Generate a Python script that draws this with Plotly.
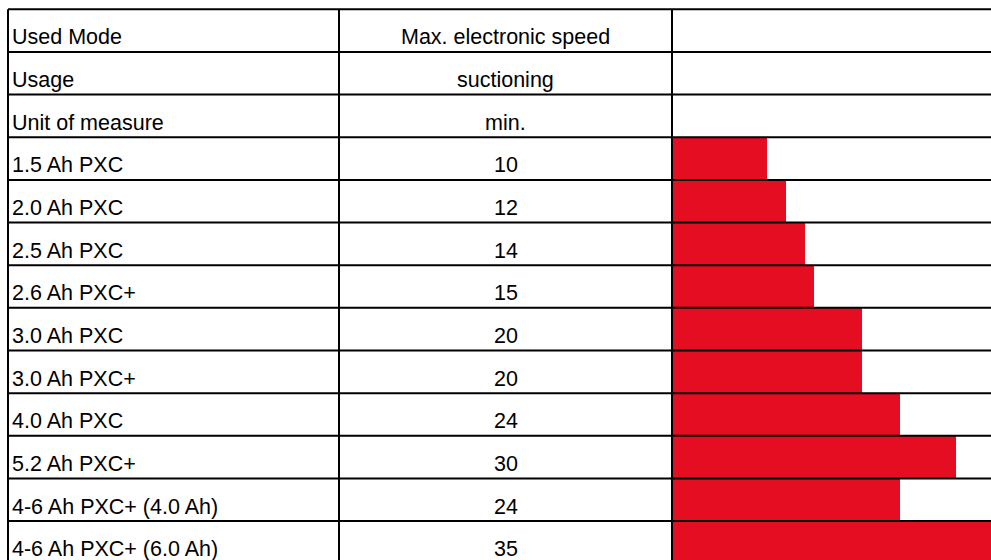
import plotly.graph_objects as go

header_labels = ["Used Mode", "Usage", "Unit of measure"]
header_values = ["Max. electronic speed", "suctioning", "min."]
batteries = ["1.5 Ah PXC", "2.0 Ah PXC", "2.5 Ah PXC", "2.6 Ah PXC+", "3.0 Ah PXC",
             "3.0 Ah PXC+", "4.0 Ah PXC", "5.2 Ah PXC+", "4-6 Ah PXC+ (4.0 Ah)",
             "4-6 Ah PXC+ (6.0 Ah)"]
minutes = [10, 12, 14, 15, 20, 20, 24, 30, 24, 35]

W, H = 991, 560
row_h = 42.65
top = 9.3
px_per_unit = 9.48
bar_x0 = 672
col_left = 8
col_mid = 339

n_rows = len(header_labels) + len(batteries)
row_positions = list(range(len(header_labels), n_rows))

x_min = -bar_x0 / px_per_unit
x_max = x_min + W / px_per_unit
y_top = -0.5 - top / row_h
y_bot = y_top + H / row_h

fig = go.Figure()
fig.add_trace(go.Bar(
    x=minutes, y=row_positions, orientation="h", width=1.0,
    marker=dict(color="#E50D21", line=dict(width=0)),
    hoverinfo="skip", showlegend=False,
))

font = dict(family="Liberation Sans, Arial, sans-serif", size=21.5, color="#000")
left_texts = header_labels + batteries
mid_texts = header_values + [str(v) for v in minutes]

annotations = []
for i in range(n_rows):
    annotations.append(dict(
        x=(col_left + 2) / W, xref="paper", y=i, yref="y",
        text=left_texts[i], showarrow=False, xanchor="left", yanchor="bottom",
        font=font, yshift=-row_h / 2 + 0.5,
    ))
    annotations.append(dict(
        x=((col_mid + bar_x0) / 2) / W, xref="paper", y=i, yref="y",
        text=mid_texts[i], showarrow=False, xanchor="center", yanchor="bottom",
        font=font, yshift=-row_h / 2 + 0.5,
    ))

shapes = []
line = dict(color="#000", width=2)
for i in range(n_rows + 1):
    shapes.append(dict(type="line", xref="paper", yref="y",
                       x0=col_left / W, x1=1, y0=i - 0.5, y1=i - 0.5, line=line, layer="above"))
for xv in [col_left, col_mid, bar_x0]:
    shapes.append(dict(type="line", xref="paper", yref="y",
                       x0=xv / W, x1=xv / W, y0=-0.5, y1=y_bot, line=line, layer="above"))

fig.update_layout(
    width=W, height=H,
    margin=dict(l=0, r=0, t=0, b=0),
    paper_bgcolor="white", plot_bgcolor="white",
    xaxis=dict(range=[x_min, x_max], visible=False, fixedrange=True),
    yaxis=dict(range=[y_bot, y_top], visible=False, fixedrange=True),
    annotations=annotations, shapes=shapes,
    bargap=0,
    hovermode=False,
)

fig.write_html(
    "out.html",
    config={"displayModeBar": False, "staticPlot": True},
    post_script="document.body.style.margin='0';document.body.style.overflow='hidden';",
)
